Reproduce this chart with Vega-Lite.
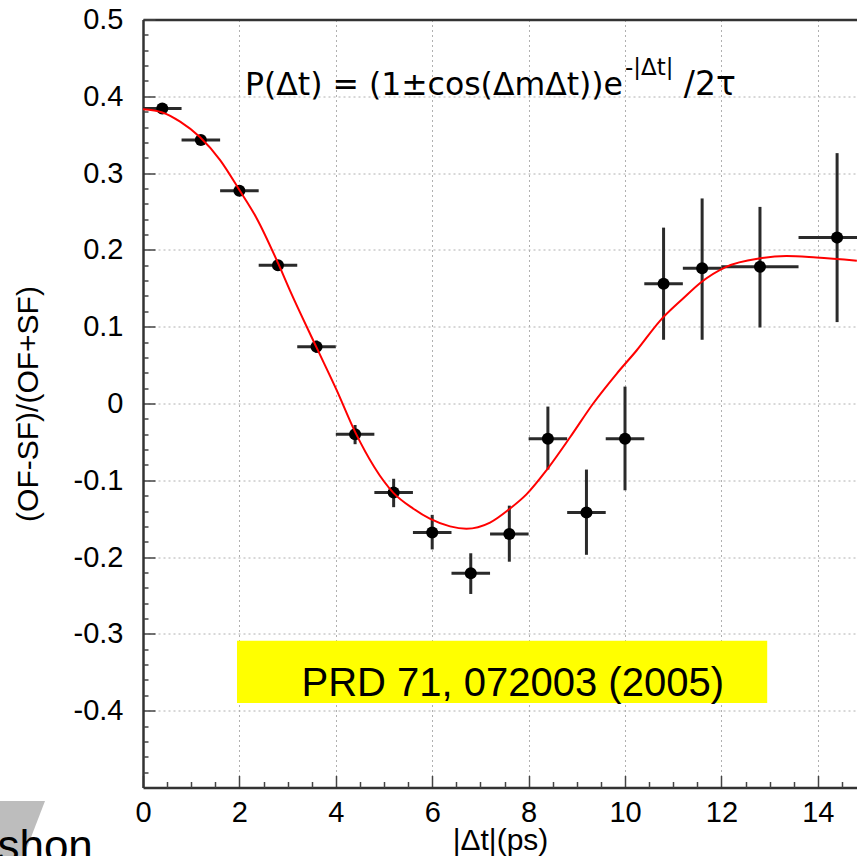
{
  "$schema": "https://vega.github.io/schema/vega-lite/v6.json",
  "width": 714,
  "height": 768,
  "autosize": {"type": "none"},
  "padding": {"left": 143, "top": 19.5, "right": 0, "bottom": 80},
  "background": "white",
  "config": {"view": {"stroke": null}},
  "datasets": {
    "points": [
      {"x": 0.4, "y": 0.384, "xlo": 0.0, "xhi": 0.8, "ylo": 0.379, "yhi": 0.389},
      {"x": 1.2, "y": 0.343, "xlo": 0.8, "xhi": 1.6, "ylo": 0.338, "yhi": 0.348},
      {"x": 2.0, "y": 0.277, "xlo": 1.6, "xhi": 2.4, "ylo": 0.271, "yhi": 0.283},
      {"x": 2.8, "y": 0.180, "xlo": 2.4, "xhi": 3.2, "ylo": 0.173, "yhi": 0.187},
      {"x": 3.6, "y": 0.074, "xlo": 3.2, "xhi": 4.0, "ylo": 0.066, "yhi": 0.082},
      {"x": 4.4, "y": -0.040, "xlo": 4.0, "xhi": 4.8, "ylo": -0.053, "yhi": -0.028},
      {"x": 5.2, "y": -0.116, "xlo": 4.8, "xhi": 5.6, "ylo": -0.135, "yhi": -0.098},
      {"x": 6.0, "y": -0.168, "xlo": 5.6, "xhi": 6.4, "ylo": -0.190, "yhi": -0.145},
      {"x": 6.8, "y": -0.221, "xlo": 6.4, "xhi": 7.2, "ylo": -0.248, "yhi": -0.195},
      {"x": 7.6, "y": -0.170, "xlo": 7.2, "xhi": 8.0, "ylo": -0.206, "yhi": -0.133},
      {"x": 8.4, "y": -0.046, "xlo": 8.0, "xhi": 8.8, "ylo": -0.086, "yhi": -0.004},
      {"x": 9.2, "y": -0.142, "xlo": 8.8, "xhi": 9.6, "ylo": -0.197, "yhi": -0.086},
      {"x": 10.0, "y": -0.046, "xlo": 9.6, "xhi": 10.4, "ylo": -0.113, "yhi": 0.022},
      {"x": 10.8, "y": 0.156, "xlo": 10.4, "xhi": 11.2, "ylo": 0.083, "yhi": 0.229},
      {"x": 11.6, "y": 0.176, "xlo": 11.2, "xhi": 12.0, "ylo": 0.083, "yhi": 0.267},
      {"x": 12.8, "y": 0.178, "xlo": 12.0, "xhi": 13.6, "ylo": 0.099, "yhi": 0.256},
      {"x": 14.4, "y": 0.216, "xlo": 13.6, "xhi": 15.2, "ylo": 0.106, "yhi": 0.326}
    ],
    "curve": [
      {"x": 0.0, "y": 0.383},
      {"x": 0.4, "y": 0.379},
      {"x": 0.77, "y": 0.367},
      {"x": 1.18, "y": 0.347},
      {"x": 1.6, "y": 0.317},
      {"x": 2.0, "y": 0.278},
      {"x": 2.36, "y": 0.241},
      {"x": 2.8, "y": 0.183},
      {"x": 3.05, "y": 0.147},
      {"x": 3.6, "y": 0.073},
      {"x": 4.02, "y": 0.017},
      {"x": 4.4, "y": -0.037},
      {"x": 5.19, "y": -0.116},
      {"x": 5.61, "y": -0.137},
      {"x": 5.95, "y": -0.150},
      {"x": 6.37, "y": -0.160},
      {"x": 6.71, "y": -0.163},
      {"x": 7.2, "y": -0.155},
      {"x": 7.61, "y": -0.137},
      {"x": 7.96, "y": -0.118},
      {"x": 8.37, "y": -0.087},
      {"x": 8.86, "y": -0.044},
      {"x": 9.34, "y": 0.0},
      {"x": 9.83, "y": 0.039},
      {"x": 10.24, "y": 0.069},
      {"x": 10.73, "y": 0.108},
      {"x": 11.21, "y": 0.137},
      {"x": 11.56, "y": 0.157},
      {"x": 12.1, "y": 0.178},
      {"x": 12.8, "y": 0.189},
      {"x": 13.35, "y": 0.192},
      {"x": 13.97, "y": 0.190},
      {"x": 14.81, "y": 0.186}
    ],
    "shape": [
      {"gy": -0.5176, "gx": -3.2, "gx2": -2.033},
      {"gy": -0.61, "gx": -3.2, "gx2": -2.60}
    ],
    "one": [{}]
  },
  "resolve": {"axis": {"x": "independent", "y": "independent"}},
  "layer": [
    {
      "data": {"name": "curve"},
      "mark": {"type": "line", "opacity": 0},
      "encoding": {
        "x": {"field": "x", "type": "quantitative",
          "scale": {"domain": [0, 14.813], "nice": false, "zero": false},
          "axis": {"orient": "bottom", "values": [0, 2, 4, 6, 8, 10, 12, 14],
            "title": "|Δt|(ps)", "grid": true, "gridDash": [2, 3], "gridColor": "#b0b0b0", "gridWidth": 1,
            "tickSize": -12, "tickColor": "#444444", "tickWidth": 1.5,
            "domainColor": "#333333", "domainWidth": 2.5,
            "labelFont": "Liberation Sans", "labelFontSize": 29, "labelColor": "#000000", "labelPadding": 23,
            "labelFlush": false, "labelOverlap": false,
            "labelExpr": "replace(format(datum.value, '~g'), '\u2212', '-')",
            "titleFont": "Liberation Sans", "titleFontSize": 30, "titleFontWeight": "normal", "titleColor": "#000000", "titlePadding": -2}},
        "y": {"field": "y", "type": "quantitative",
          "scale": {"domain": [-0.5, 0.5], "nice": false, "zero": false},
          "axis": {"orient": "left", "values": [-0.4, -0.3, -0.2, -0.1, 0, 0.1, 0.2, 0.3, 0.4, 0.5],
            "title": "(OF-SF)/(OF+SF)", "grid": true, "gridDash": [2, 3], "gridColor": "#b0b0b0", "gridWidth": 1,
            "tickSize": -12, "tickColor": "#444444", "tickWidth": 1.5,
            "domainColor": "#333333", "domainWidth": 2.5,
            "labelFont": "Liberation Sans", "labelFontSize": 29, "labelColor": "#000000", "labelPadding": 32,
            "labelFlush": false, "labelOverlap": false,
            "labelExpr": "replace(format(datum.value, '~g'), '\u2212', '-')",
            "titleFont": "Liberation Sans", "titleFontSize": 30, "titleFontWeight": "normal", "titleColor": "#000000", "titlePadding": 30}}
      }
    },
    {
      "data": {"name": "points"},
      "mark": {"type": "rule", "color": "#2a2a2a", "strokeWidth": 3},
      "encoding": {
        "x": {"field": "xlo", "type": "quantitative",
          "scale": {"domain": [0, 14.813], "nice": false, "zero": false},
          "axis": {"orient": "bottom", "title": null, "labels": false, "grid": false, "domain": false,
            "values": [0.5, 1, 1.5, 2.5, 3, 3.5, 4.5, 5, 5.5, 6.5, 7, 7.5, 8.5, 9, 9.5, 10.5, 11, 11.5, 12.5, 13, 13.5, 14.5],
            "tickSize": -6, "tickColor": "#444444", "tickWidth": 1.5}},
        "x2": {"field": "xhi"},
        "y": {"field": "y", "type": "quantitative",
          "scale": {"domain": [-0.5, 0.5], "nice": false, "zero": false},
          "axis": {"orient": "left", "title": null, "labels": false, "grid": false, "domain": false,
            "values": [-0.48, -0.46, -0.44, -0.42, -0.38, -0.36, -0.34, -0.32, -0.28, -0.26, -0.24, -0.22, -0.18, -0.16, -0.14, -0.12, -0.08, -0.06, -0.04, -0.02, 0.02, 0.04, 0.06, 0.08, 0.12, 0.14, 0.16, 0.18, 0.22, 0.24, 0.26, 0.28, 0.32, 0.34, 0.36, 0.38, 0.42, 0.44, 0.46, 0.48],
            "tickSize": -5, "tickColor": "#444444", "tickWidth": 1.5}}
      }
    },
    {
      "data": {"name": "points"},
      "mark": {"type": "rule", "color": "#2a2a2a", "strokeWidth": 3},
      "encoding": {
        "x": {"field": "x", "type": "quantitative",
          "scale": {"domain": [0, 14.813], "nice": false, "zero": false},
          "axis": {"orient": "top", "title": null, "labels": false, "grid": false, "ticks": false,
            "domain": true, "domainColor": "#333333", "domainWidth": 2.5}},
        "y": {"field": "ylo", "type": "quantitative",
          "scale": {"domain": [-0.5, 0.5], "nice": false, "zero": false}, "axis": null},
        "y2": {"field": "yhi"}
      }
    },
    {
      "data": {"name": "one"},
      "mark": {"type": "rect", "color": "#ffff00"},
      "encoding": {
        "x": {"datum": 1.95, "type": "quantitative", "scale": {"domain": [0, 14.813], "nice": false, "zero": false}, "axis": null},
        "x2": {"datum": 12.95},
        "y": {"datum": -0.309, "type": "quantitative", "scale": {"domain": [-0.5, 0.5], "nice": false, "zero": false}, "axis": null},
        "y2": {"datum": -0.390}
      }
    },
    {
      "data": {"name": "one"},
      "mark": {"type": "text", "text": "PRD 71, 072003 (2005)", "font": "Liberation Sans", "fontSize": 40, "color": "#000000", "align": "center", "baseline": "alphabetic"},
      "encoding": {
        "x": {"datum": 7.67, "type": "quantitative", "scale": {"domain": [0, 14.813], "nice": false, "zero": false}, "axis": null},
        "y": {"datum": -0.3807, "type": "quantitative", "scale": {"domain": [-0.5, 0.5], "nice": false, "zero": false}, "axis": null}
      }
    },
    {
      "data": {"name": "one"},
      "mark": {"type": "text", "text": "P(Δt) = (1±cos(ΔmΔt))e", "font": "DejaVu Sans", "fontSize": 31.5, "color": "#000000", "align": "left", "baseline": "alphabetic"},
      "encoding": {
        "x": {"datum": 2.116, "type": "quantitative", "scale": {"domain": [0, 14.813], "nice": false, "zero": false}, "axis": null},
        "y": {"datum": 0.4016, "type": "quantitative", "scale": {"domain": [-0.5, 0.5], "nice": false, "zero": false}, "axis": null}
      }
    },
    {
      "data": {"name": "one"},
      "mark": {"type": "text", "text": "-|Δt|", "font": "DejaVu Sans", "fontSize": 23, "color": "#000000", "align": "left", "baseline": "alphabetic"},
      "encoding": {
        "x": {"datum": 10.0, "type": "quantitative", "scale": {"domain": [0, 14.813], "nice": false, "zero": false}, "axis": null},
        "y": {"datum": 0.4282, "type": "quantitative", "scale": {"domain": [-0.5, 0.5], "nice": false, "zero": false}, "axis": null}
      }
    },
    {
      "data": {"name": "one"},
      "mark": {"type": "text", "text": "/2τ", "font": "DejaVu Sans", "fontSize": 33, "color": "#000000", "align": "left", "baseline": "alphabetic"},
      "encoding": {
        "x": {"datum": 11.22, "type": "quantitative", "scale": {"domain": [0, 14.813], "nice": false, "zero": false}, "axis": null},
        "y": {"datum": 0.4016, "type": "quantitative", "scale": {"domain": [-0.5, 0.5], "nice": false, "zero": false}, "axis": null}
      }
    },
    {
      "data": {"name": "points"},
      "mark": {"type": "point", "filled": true, "color": "#000000", "opacity": 1, "size": 145, "shape": "circle"},
      "encoding": {
        "x": {"field": "x", "type": "quantitative", "scale": {"domain": [0, 14.813], "nice": false, "zero": false}, "axis": null},
        "y": {"field": "y", "type": "quantitative", "scale": {"domain": [-0.5, 0.5], "nice": false, "zero": false}, "axis": null}
      }
    },
    {
      "data": {"name": "curve"},
      "mark": {"type": "line", "color": "#ff0000", "strokeWidth": 2, "interpolate": "monotone"},
      "encoding": {
        "x": {"field": "x", "type": "quantitative", "scale": {"domain": [0, 14.813], "nice": false, "zero": false}, "axis": null},
        "y": {"field": "y", "type": "quantitative", "scale": {"domain": [-0.5, 0.5], "nice": false, "zero": false}, "axis": null}
      }
    },
    {
      "data": {"name": "shape"},
      "mark": {"type": "area", "orient": "horizontal", "color": "#bdbdbd", "opacity": 1},
      "encoding": {
        "y": {"field": "gy", "type": "quantitative", "scale": {"domain": [-0.5, 0.5], "nice": false, "zero": false}, "axis": null},
        "x": {"field": "gx", "type": "quantitative", "scale": {"domain": [0, 14.813], "nice": false, "zero": false}, "axis": null},
        "x2": {"field": "gx2"}
      }
    },
    {
      "data": {"name": "one"},
      "mark": {"type": "text", "text": "shon", "font": "Liberation Sans", "fontSize": 44, "color": "#000000", "align": "left", "baseline": "alphabetic"},
      "encoding": {
        "x": {"datum": -3.02, "type": "quantitative", "scale": {"domain": [0, 14.813], "nice": false, "zero": false}, "axis": null},
        "y": {"datum": -0.596, "type": "quantitative", "scale": {"domain": [-0.5, 0.5], "nice": false, "zero": false}, "axis": null}
      }
    }
  ]
}
